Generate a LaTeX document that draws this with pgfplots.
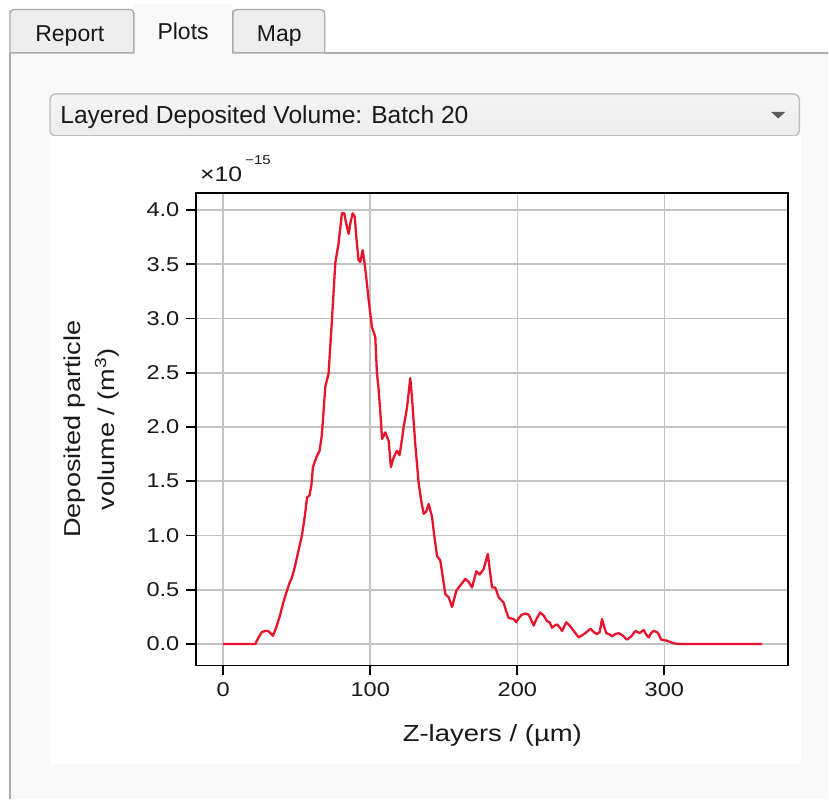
\documentclass[border=0pt]{standalone}
\usepackage{pgfplots}
\pgfplotsset{compat=1.18}
\usepackage{fontspec}
\setmainfont[FakeStretch=1.18]{Liberation Sans}
\newfontfamily\guifont{Liberation Sans}
\definecolor{plotred}{RGB}{232,20,45}
\definecolor{gridgray}{RGB}{195,195,195}
\definecolor{panelbg}{RGB}{249,249,249}
\definecolor{tabbg}{RGB}{238,238,238}
\definecolor{tabborder}{RGB}{172,172,172}
\definecolor{ddborder}{RGB}{190,190,190}
\definecolor{ddtop}{RGB}{245,245,245}
\definecolor{ddbot}{RGB}{236,236,236}
\definecolor{arrowc}{RGB}{90,90,90}
\definecolor{guitext}{RGB}{25,25,25}
\definecolor{plottext}{RGB}{25,25,25}

\pgfplotstableread{
x y
0 0
21.8 0
24 0.06
26.3 0.11
28.5 0.12
30.6 0.12
32 0.10
33.8 0.075
36 0.15
38.5 0.26
41 0.39
43.3 0.49
45 0.56
46.7 0.61
48.5 0.70
50.5 0.82
53.5 1.0
55.5 1.18
57 1.35
58.7 1.37
60 1.47
61 1.63
63.3 1.72
65.5 1.78
67 1.92
67.8 2.06
69.4 2.37
71.6 2.49
73.9 2.98
76.2 3.51
78.4 3.69
80.7 3.97
82.3 3.97
83.5 3.88
85.3 3.78
86.5 3.88
88 3.97
89.4 3.94
90.5 3.75
92 3.54
93.2 3.52
94.8 3.63
96 3.52
97.5 3.35
98.9 3.17
101.1 2.92
103.4 2.83
104.5 2.5
105.7 2.34
107 2.10
108 1.89
110.2 1.95
112.5 1.87
114 1.63
115.9 1.72
118.1 1.78
119.9 1.74
121.5 1.88
122.7 2.0
125 2.18
127.2 2.45
128.3 2.28
130.6 1.84
132.9 1.48
134.5 1.33
136.3 1.20
138 1.22
139.7 1.29
142 1.17
143.5 1.00
145.4 0.81
147.6 0.77
149.5 0.60
151 0.46
153.3 0.43
155.6 0.34
158.5 0.49
161.2 0.54
163 0.57
164.6 0.60
167 0.57
169.2 0.52
172.1 0.67
174.4 0.64
177.1 0.69
179.9 0.83
181.6 0.65
182.8 0.52
185 0.52
187.3 0.43
190.7 0.38
192.5 0.30
194.1 0.24
197.5 0.23
199.3 0.20
201 0.24
203.1 0.27
205.5 0.28
207.7 0.27
209.5 0.22
211.1 0.17
213 0.23
215.6 0.29
218 0.26
220.2 0.21
222 0.20
223.6 0.15
225.5 0.17
227 0.18
229 0.15
230.4 0.12
233.3 0.20
235.5 0.17
237.2 0.14
239.5 0.10
241.7 0.06
244 0.08
246.3 0.10
248 0.12
249.7 0.14
252 0.11
254.2 0.09
256 0.11
257.6 0.23
259 0.16
260.5 0.10
262.5 0.09
264.4 0.07
266.5 0.09
268.9 0.10
271.5 0.08
274.6 0.04
277.5 0.07
280.3 0.12
283.2 0.10
285.9 0.13
287.5 0.09
289.3 0.06
291 0.10
292.7 0.12
295 0.11
296.5 0.08
297.8 0.04
301.8 0.03
306.4 0.005
310.9 0
366.5 0
}\depdata

\begin{document}
\begin{tikzpicture}[x=0.5pt,y=-0.5pt]
% page background
\fill[white] (0,0) rectangle (829,800);
% panel
\fill[panelbg] (10,53) rectangle (829,800);
% selected tab (Plots)
\fill[panelbg] (134,4) rectangle (233,54);
% unselected tabs
\draw[tabborder, line width=0.7pt, fill=tabbg] (10,53) -- (10,11) [rounded corners=2pt] -- (10,9.5) -- (134,9.5) [sharp corners] -- (134,53) -- cycle;
\draw[tabborder, line width=0.7pt, fill=tabbg] (233,53) -- (233,11) [rounded corners=2pt] -- (233,9.5) -- (325,9.5) [sharp corners] -- (325,53) -- cycle;
% panel borders
\draw[tabborder, line width=0.7pt] (325,53) -- (829,53);
\draw[tabborder, line width=0.7pt] (10,53) -- (10,800);
% tab labels
\node[anchor=base west, inner sep=0, text=guitext, font=\guifont\fontsize{11.5}{13}\selectfont] at (35,41.7) {Report};
\node[anchor=base west, inner sep=0, text=guitext, font=\guifont\fontsize{11.5}{13}\selectfont] at (157.3,39.3) {Plots};
\node[anchor=base west, inner sep=0, text=guitext, font=\guifont\fontsize{11.5}{13}\selectfont] at (256.7,41.7) {Map};
% dropdown
\shade[top color=ddtop, bottom color=ddbot, draw=ddborder, line width=0.7pt, rounded corners=3pt] (50,94) rectangle (800,136);
\node[anchor=base west, inner sep=0, text=guitext, font=\guifont\fontsize{12.3}{14}\selectfont] at (60,123.5) {Layered Deposited Volume: Batch 20};
\fill[arrowc] (771.7,112) -- (786,112) -- (778.85,118.5) -- cycle;
% figure area
\fill[white] (50,136) rectangle (801.5,765);

\begin{axis}[
  at={(98.25pt,-333pt)}, anchor=south west,
  scale only axis, width=296.25pt, height=236.5pt,
  xmin=-18.3, xmax=384.3, ymin=-0.198, ymax=4.158,
  xtick={0,100,200,300}, ytick={0,0.5,...,4.0},
  grid=major, major grid style={line width=0.8pt, color=gridgray},
  axis line style={line width=0.9pt, black},
  tick align=outside, major tick length=5pt,
  tick style={line width=0.9pt, black},
  tick pos=left,
  scaled ticks=false,
  /pgf/number format/assume math mode=true,
  xticklabel style={/pgf/number format/.cd, fixed, precision=0},
  yticklabel style={/pgf/number format/.cd, fixed, fixed zerofill, precision=1},
  tick label style={font=\fontsize{10}{12}\selectfont, text=plottext},
]
\addplot[plotred, line width=1.15pt, line join=round] table[x=x, y=y] {\depdata};
\end{axis}

% axis labels and offset text
\node[anchor=base, inner sep=0, text=plottext, font=\fontsize{11.65}{14}\selectfont] at (492.75,741.7) {Z-layers / (µm)};
\node[anchor=base, inner sep=0, rotate=90, text=plottext, font=\fontsize{11.5}{14}\selectfont] at (80.7,429.5) {Deposited particle};
\node[anchor=base, inner sep=0, rotate=90, text=plottext, font=\fontsize{11.5}{14}\selectfont] at (115,429.5) {volume / (m\textsuperscript{3})};
\node[anchor=base west, inner sep=0, text=plottext, font=\fontsize{10.5}{12}\selectfont] at (200,181.7) {×10\hspace{1.5pt}\raisebox{8.3pt}{\fontsize{6.4}{8}\selectfont −15}};
\end{tikzpicture}
\end{document}
